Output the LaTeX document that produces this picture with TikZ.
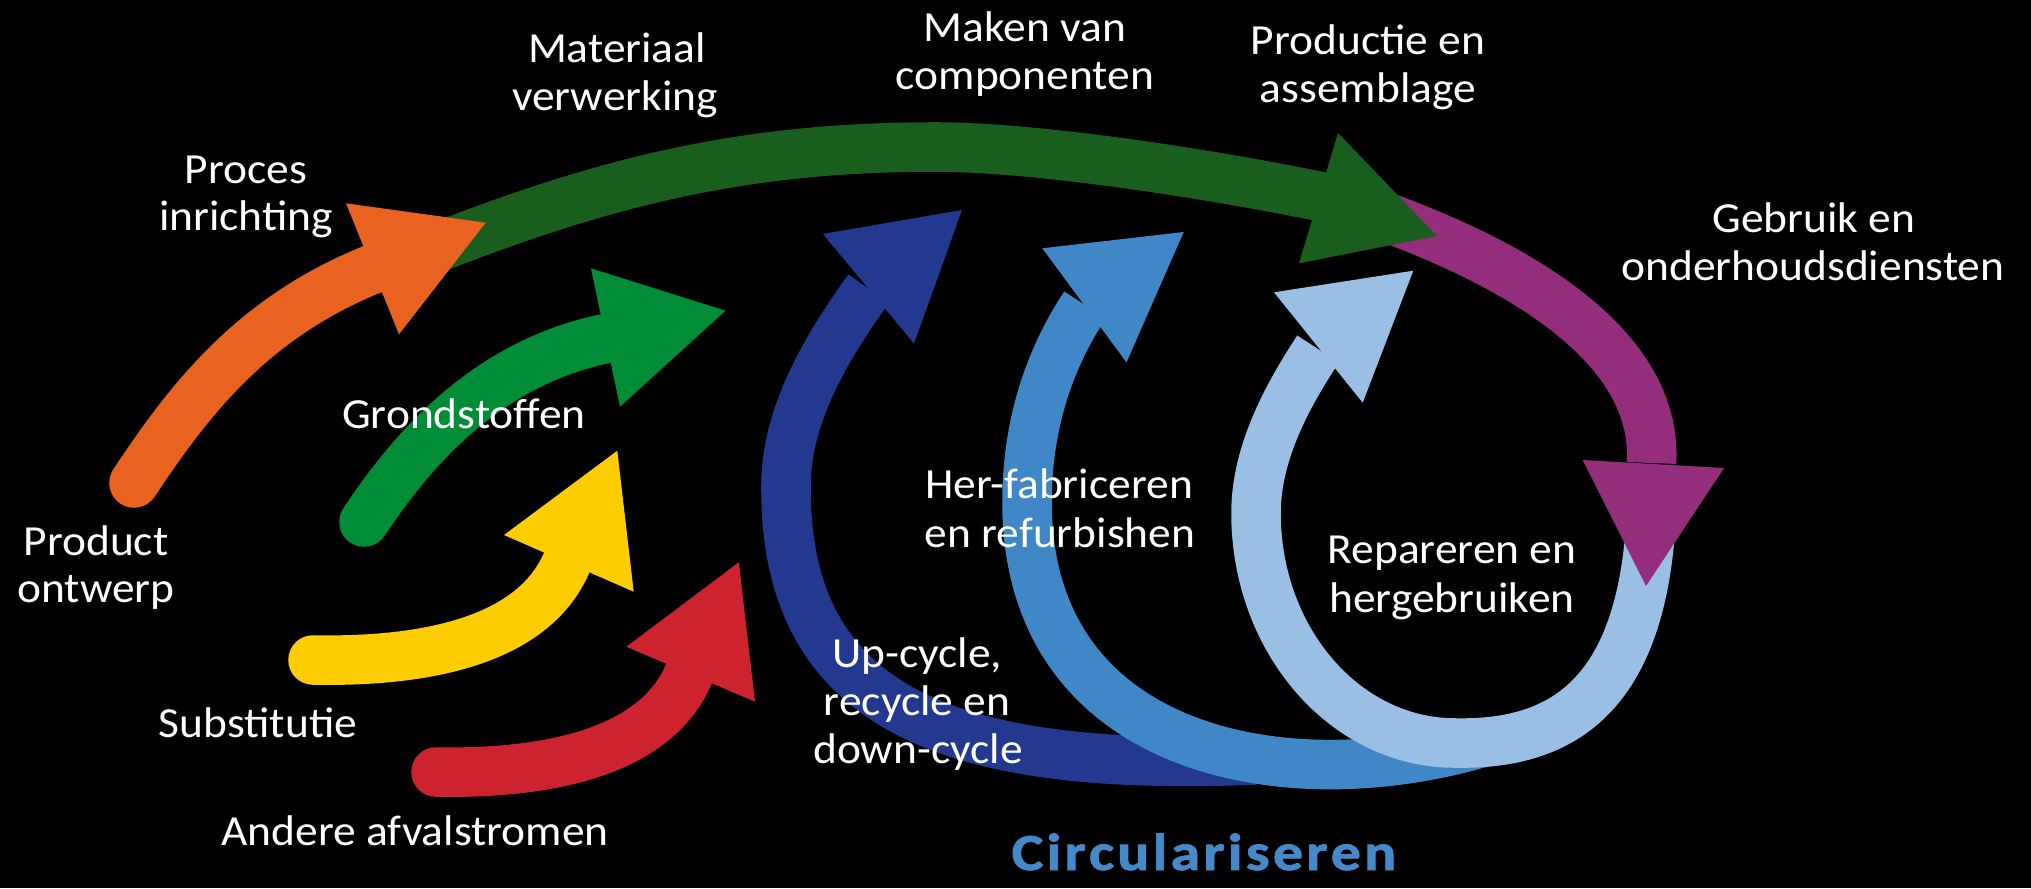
\documentclass[tikz,border=0pt]{standalone}
\usepackage{fontspec}
\usepackage{graphicx}
\newfontfamily\lblfont{Carlito}[FakeStretch=1.06]
\newfontfamily\circfont{Carlito}[BoldFeatures={FakeBold=1.4}]
\definecolor{cOrange}{HTML}{E9621F}
\definecolor{cDkGreen}{HTML}{1A5E1E}
\definecolor{cGreen}{HTML}{008D36}
\definecolor{cYellow}{HTML}{FDCD00}
\definecolor{cRed}{HTML}{CD232E}
\definecolor{cPurple}{HTML}{942D7B}
\definecolor{cDkBlue}{HTML}{22398F}
\definecolor{cMidBlue}{HTML}{3F87C6}
\definecolor{cLtBlue}{HTML}{9ABFE5}
\definecolor{cCirc}{HTML}{4589C8}
\newcommand\circword{\scalebox{1.15}[1]{C\kern0.8pt i\kern0.8pt r\kern0.8pt c\kern0.8pt u\kern0.8pt l\kern0.8pt a\kern0.8pt r\kern0.8pt i\kern0.8pt s\kern0.8pt e\kern0.8pt r\kern0.8pt e\kern0.8pt n}}
\begin{document}
\begin{tikzpicture}[x=0.01cm,y=-0.01cm,
  shaft/.style={line width=0.495cm},
  lbl/.style={text=white, font=\lblfont\fontsize{12.2}{14}\selectfont, inner sep=0pt, anchor=base},
  circ/.style={text=cCirc, font=\circfont\bfseries\fontsize{14.8}{16}\selectfont, inner sep=0pt, anchor=base}]
\fill[black] (0,0) rectangle (2031,888);
\useasboundingbox (0,0) rectangle (2031,888);

% dark blue loop
\draw[shaft,cDkBlue] (1255,760) .. controls (950,772) and (784,710) .. (786,485)
  .. controls (786,410) and (833.6,337.5) .. (868.6,288.8);
\fill[cDkBlue] (823,234) -- (962,210) -- (914,343.6) -- cycle;
% mid blue loop
\draw[shaft,cMidBlue] (1480,743) .. controls (1284,800) and (1027,752) .. (1027,502)
  .. controls (1027,420) and (1052,354.8) .. (1085,305);
\fill[cMidBlue] (1042.3,248.3) -- (1183.7,232) -- (1126.5,362.3) -- cycle;
% light blue loop
\draw[shaft,cLtBlue] (1652,470) .. controls (1655,700) and (1560,745) .. (1455,743)
  .. controls (1345,743) and (1256,640) .. (1256,513)
  .. controls (1256,450) and (1290.7,390.9) .. (1318,349);
\fill[cLtBlue] (1274,292.3) -- (1413.3,270.7) -- (1362.7,402.7) -- cycle;
% purple
\draw[shaft,cPurple] (1380,215) .. controls (1511.6,262.6) and (1658.5,343.2) .. (1651.5,463);
\fill[cPurple] (1582.7,460) -- (1724,468) -- (1646,586) -- cycle;
% dark green
\draw[shaft,cDkGreen] (428,251) .. controls (597,185) and (735,147) .. (935,147)
  .. controls (1035,147) and (1204,172.8) .. (1321.5,196.8);
\fill[cDkGreen] (1338,133) -- (1437,236) -- (1299,263.3) -- cycle;
% orange
\draw[shaft,cOrange,line cap=round] (134,483) .. controls (189,400) and (251.8,318) .. (372.3,269.2);
\fill[cOrange] (346,203.3) -- (485.7,222.7) -- (399,334.3) -- cycle;
% bright green
\draw[shaft,cGreen,line cap=round] (364,522) .. controls (413.5,447.3) and (487.5,363.3) .. (605,338.7);
\fill[cGreen] (591,268.3) -- (725.5,310.7) -- (620,406.7) -- cycle;
% yellow
\draw[shaft,cYellow,line cap=round] (313,660) .. controls (413,662) and (530.4,645.7) .. (566.4,563.3);
\fill[cYellow] (617.3,450.7) -- (504,535) -- (633.7,591.7) -- cycle;
% red
\draw[shaft,cRed,line cap=round] (436,772) .. controls (536,774) and (653.4,756.9) .. (688.8,674.2);
\fill[cRed] (738.8,562.3) -- (626.5,646.7) -- (755,701.7) -- cycle;

% labels
\node[lbl] (t1a) at (617,63) {Materiaal};
\node[lbl] (t1b) at (615,111) {verwerking};
\node[lbl] (t2a) at (1025,42) {Maken van};
\node[lbl] (t2b) at (1025,90) {componenten};
\node[lbl] (t3a) at (1368,55) {Productie en};
\node[lbl] (t3b) at (1368,103) {assemblage};
\node[lbl] (t4a) at (246,183) {Proces};
\node[lbl] (t4b) at (246,231) {inrichting};
\node[lbl] (t5a) at (1814,232) {Gebruik en};
\node[lbl] (t5b) at (1813,280) {onderhoudsdiensten};
\node[lbl] (t6) at (464,428) {Grondstoffen};
\node[lbl] (t7a) at (1059,498) {Her-fabriceren};
\node[lbl] (t7b) at (1060,547) {en refurbishen};
\node[lbl] (t8a) at (1452,563) {Repareren en};
\node[lbl] (t8b) at (1452,612) {hergebruiken};
\node[lbl] (t9a) at (96,555) {Product};
\node[lbl] (t9b) at (96,602) {ontwerp};
\node[lbl] (t10a) at (917,667) {Up-cycle,};
\node[lbl] (t10b) at (917,715) {recycle en};
\node[lbl] (t10c) at (918,763) {down-cycle};
\node[lbl] (t11) at (258,737) {Substitutie};
\node[lbl] (t12) at (415,845) {Andere afvalstromen};
\node[circ] (t13) at (1204,870) {\circword};
\end{tikzpicture}
\end{document}
